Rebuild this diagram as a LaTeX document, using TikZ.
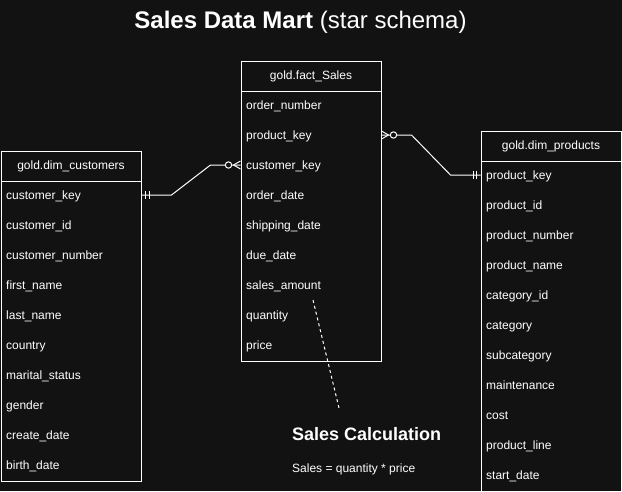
\documentclass[tikz,border=0pt]{standalone}
\usepackage{fontspec}
\setmainfont{Liberation Sans}
\begin{document}
\begin{tikzpicture}[x=1pt,y=-1pt,
  tbl/.style={draw=white, line width=1pt, anchor=north west, inner sep=0pt, text=white, font=\fontsize{12}{14}\selectfont},
  rowtxt/.style={anchor=base west, inner sep=0pt, text=white, font=\fontsize{12}{14}\selectfont},
  conn/.style={draw=white, line width=1pt},
  ermark/.style={draw=white, line width=1pt}]
\definecolor{bgc}{HTML}{121212}
\fill[bgc] (0,0) rectangle (622,491);
\useasboundingbox (0,0) rectangle (622,491);

% title
\node[text=white, font=\fontsize{24}{28}\selectfont, inner sep=0pt] (title) at (300.5,22) {\textbf{Sales Data Mart} (star schema)};

% fact table
\node[tbl, minimum width=140pt, minimum height=30pt] (facth) at (240.5,60.5) {gold.fact\_Sales};
\node[tbl, minimum width=140pt, minimum height=270pt] (factb) at (240.5,90.5) {};
\foreach \t [count=\i] in {order\_number,product\_key,customer\_key,order\_date,shipping\_date,due\_date,sales\_amount,quantity,price}
  \node[rowtxt] (fact\i) at (246,79.5+30*\i) {\t};

% customers
\node[tbl, minimum width=140pt, minimum height=30pt] (custh) at (0.5,150.5) {gold.dim\_customers};
\node[tbl, minimum width=140pt, minimum height=300pt] (custb) at (0.5,180.5) {};
\foreach \t [count=\i] in {customer\_key,customer\_id,customer\_number,first\_name,last\_name,country,marital\_status,gender,create\_date,birth\_date}
  \node[rowtxt] (cust\i) at (6,169.5+30*\i) {\t};

% products
\node[tbl, minimum width=140pt, minimum height=30pt] (prodh) at (480.5,130.5) {gold.dim\_products};
\node[tbl, minimum width=140pt, minimum height=330pt] (prodb) at (480.5,160.5) {};
\foreach \t [count=\i] in {product\_key,product\_id,product\_number,product\_name,category\_id,category,subcategory,maintenance,cost,product\_line,start\_date}
  \node[rowtxt] (prod\i) at (486,149.5+30*\i) {\t};

% connector customers -> fact
\coordinate (cA) at ([yshift=-14.5pt]custb.north east);
\coordinate (fA) at ([yshift=-74.5pt]factb.north west);
\draw[conn] (cA) -- ++(30,0) -- ([xshift=-30pt]fA) -- (fA);
\draw[ermark] ([xshift=4pt,yshift=4pt]cA) -- ++(0,8);
\draw[ermark] ([xshift=7.5pt,yshift=4pt]cA) -- ++(0,8);
\fill[bgc] ([xshift=-12pt]fA) circle (3.2pt);
\draw[ermark] ([xshift=-12pt]fA) circle (3.2pt);
\draw[ermark] ([xshift=-7pt]fA) -- ([yshift=-4pt]fA);
\draw[ermark] ([xshift=-7pt]fA) -- ([yshift=4pt]fA);

% connector fact -> products
\coordinate (fB) at ([yshift=-44.5pt]factb.north east);
\coordinate (pB) at ([yshift=-14.5pt]prodb.north west);
\draw[conn] (fB) -- ++(30,0) -- ([xshift=-30pt]pB) -- (pB);
\draw[ermark] ([xshift=-4pt,yshift=4pt]pB) -- ++(0,8);
\draw[ermark] ([xshift=-7.5pt,yshift=4pt]pB) -- ++(0,8);
\fill[bgc] ([xshift=12pt]fB) circle (3.2pt);
\draw[ermark] ([xshift=12pt]fB) circle (3.2pt);
\draw[ermark] ([xshift=7pt]fB) -- ([yshift=-4pt]fB);
\draw[ermark] ([xshift=7pt]fB) -- ([yshift=4pt]fB);

% note
\coordinate (nA) at (313,300);
\coordinate (nB) at (339,408);
\draw[white, line width=1pt, dash pattern=on 3pt off 3pt] (nA) -- (nB);
\node[anchor=west, inner sep=0pt, text=white, font=\bfseries\fontsize{18}{21}\selectfont] (calc) at (292,434) {Sales Calculation};
\node[anchor=west, inner sep=0pt, text=white, font=\fontsize{12}{14}\selectfont] (formula) at (292,469) {Sales = quantity * price};
\end{tikzpicture}
\end{document}
